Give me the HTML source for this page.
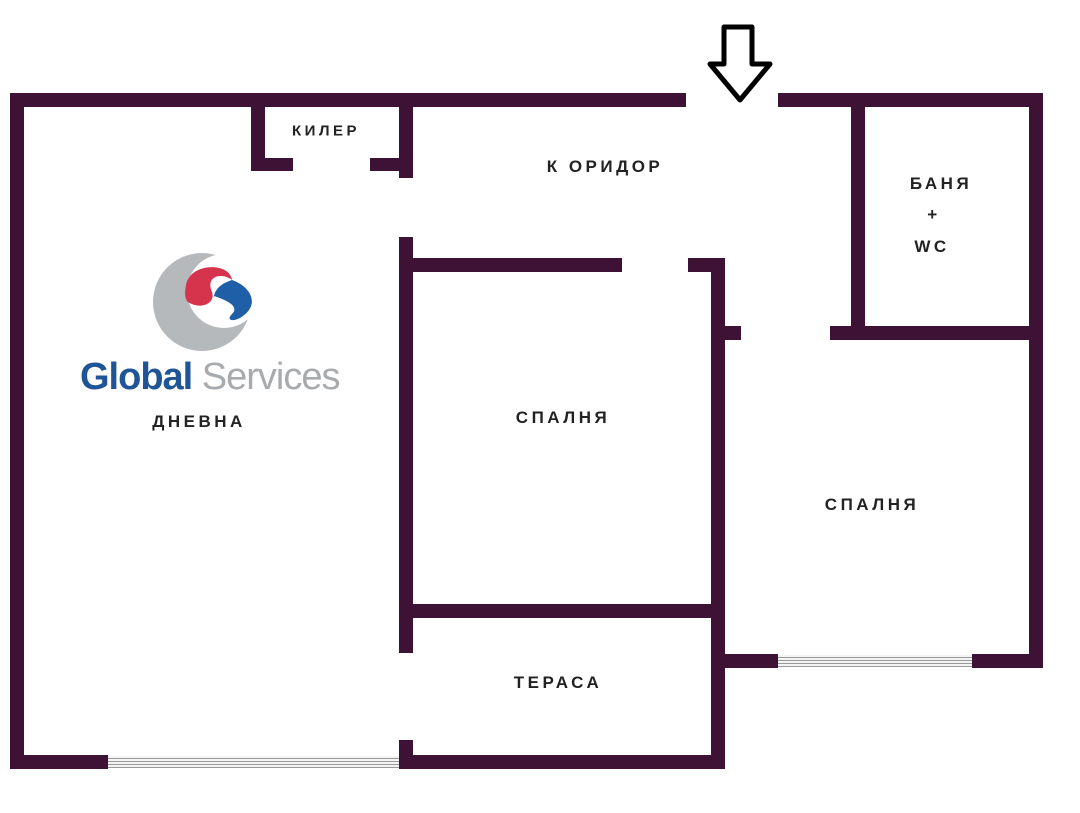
<!DOCTYPE html>
<html><head><meta charset="utf-8"><style>
body{margin:0;width:1080px;height:813px;background:#fff;position:relative;overflow:hidden;font-family:"Liberation Sans",sans-serif}
.w{position:absolute;background:#3e1234}
.win{position:absolute;background:repeating-linear-gradient(#f4f4f4 0,#f4f4f4 2px,#999 2px,#999 3px)}
.t{position:absolute;font-weight:bold;font-size:17px;letter-spacing:3.5px;color:#222;transform:translate(-50%,-50%);white-space:nowrap}
</style></head><body>
<div class="w" style="left:10px;top:93px;width:676px;height:14px"></div>
<div class="w" style="left:778px;top:93px;width:265px;height:14px"></div>
<div class="w" style="left:10px;top:93px;width:14px;height:676px"></div>
<div class="w" style="left:10px;top:755px;width:98px;height:14px"></div>
<div class="win" style="left:108px;top:756px;width:291px;height:12px"></div>
<div class="w" style="left:399px;top:755px;width:326px;height:14px"></div>
<div class="w" style="left:1029px;top:93px;width:14px;height:575px"></div>
<div class="w" style="left:711px;top:654px;width:67px;height:14px"></div>
<div class="win" style="left:778px;top:655px;width:194px;height:12px"></div>
<div class="w" style="left:972px;top:654px;width:71px;height:14px"></div>
<div class="w" style="left:251px;top:107px;width:14px;height:64px"></div>
<div class="w" style="left:251px;top:158px;width:42px;height:13px"></div>
<div class="w" style="left:399px;top:107px;width:14px;height:71px"></div>
<div class="w" style="left:370px;top:158px;width:43px;height:13px"></div>
<div class="w" style="left:399px;top:237px;width:14px;height:416px"></div>
<div class="w" style="left:399px;top:740px;width:14px;height:29px"></div>
<div class="w" style="left:413px;top:258px;width:209px;height:14px"></div>
<div class="w" style="left:688px;top:258px;width:37px;height:14px"></div>
<div class="w" style="left:711px;top:258px;width:14px;height:511px"></div>
<div class="w" style="left:725px;top:326px;width:16px;height:14px"></div>
<div class="w" style="left:413px;top:604px;width:298px;height:14px"></div>
<div class="w" style="left:851px;top:107px;width:14px;height:233px"></div>
<div class="w" style="left:830px;top:326px;width:213px;height:14px"></div>
<svg style="position:absolute;left:0;top:0" width="1080" height="813">
<polygon points="724,27 752,27 752,64 770,64 740,100 710,64 724,64" fill="none" stroke="#000" stroke-width="5" stroke-linejoin="round"/>
<circle cx="202" cy="302" r="49" fill="#b6b9bc"/>
<circle cx="224" cy="291" r="37" fill="#fff"/>
<path d="M186,285 C190,262 230,262 232,280 C222,272 205,276 212,292 C216,304 200,310 188,302 C184,298 185,290 186,285Z" fill="#d6344c"/>
<path d="M232,280 C250,286 262,305 240,318 C232,322 226,320 232,314 C240,306 226,300 214,296 C216,286 226,282 232,280Z" fill="#1f5fa8"/>
</svg>
<div style="position:absolute;left:80px;top:356px;font-size:38px;letter-spacing:-1px;white-space:nowrap;font-weight:bold"><span style="color:#1f5596">Global</span> <span style="color:#a8abae;font-weight:normal">Services</span></div>
<div class="t" style="left:326px;top:131px;font-size:15px">КИЛЕР</div>
<div class="t" style="left:605px;top:167px">К ОРИДОР</div>
<div class="t" style="left:941px;top:184px">БАНЯ</div>
<div class="t" style="left:934px;top:215px">+</div>
<div class="t" style="left:932px;top:247px">WC</div>
<div class="t" style="left:199px;top:422px">ДНЕВНА</div>
<div class="t" style="left:563px;top:418px">СПАЛНЯ</div>
<div class="t" style="left:872px;top:505px">СПАЛНЯ</div>
<div class="t" style="left:558px;top:683px">ТЕРАСА</div>
</body></html>
